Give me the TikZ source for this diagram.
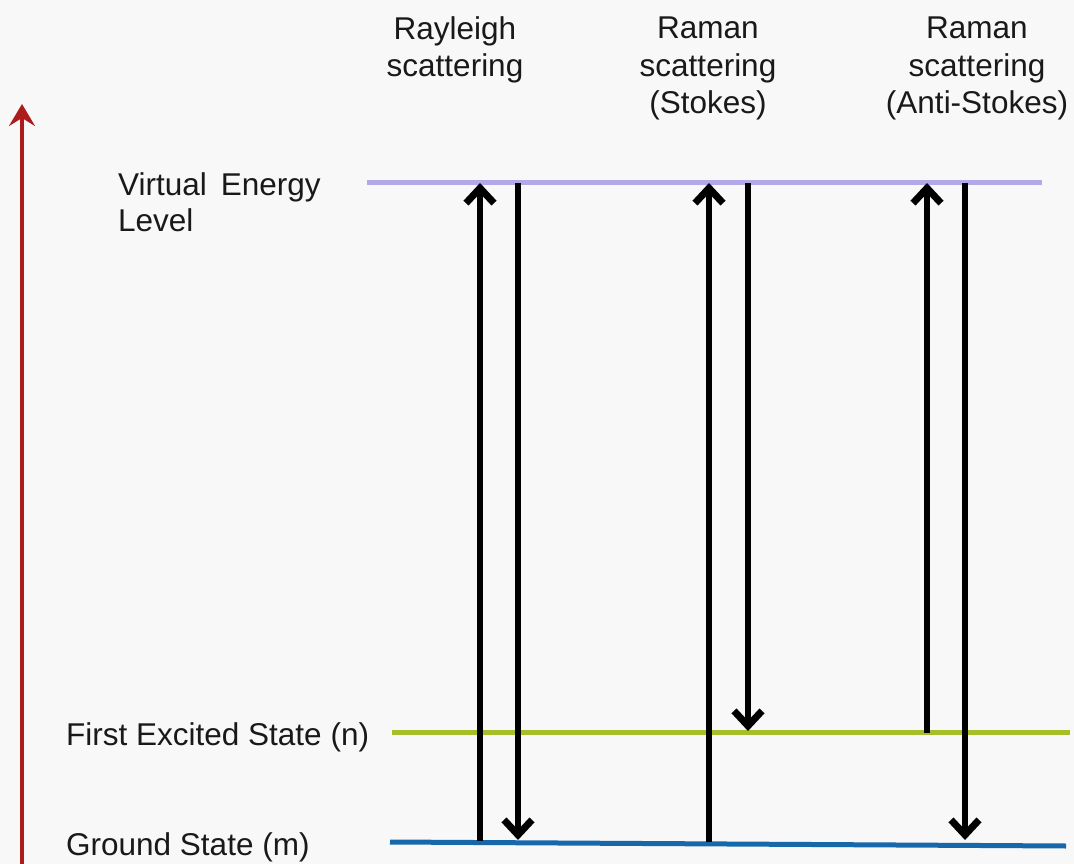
\documentclass[tikz,border=0pt]{standalone}
\usepackage{fontspec}
\setmainfont{Liberation Sans}
\usetikzlibrary{arrows.meta}
\definecolor{bgcol}{RGB}{248,248,248}
\definecolor{axisred}{RGB}{172,28,28}
\definecolor{virtcol}{RGB}{178,170,232}
\definecolor{exccol}{RGB}{168,190,40}
\definecolor{gndcol}{RGB}{22,104,170}
\tikzset{
  lbl/.style={font=\fontsize{31.5}{37.5}\selectfont, inner sep=0pt, text=black!90},
  title/.style={lbl, align=center, anchor=base},
  level/.style={line width=5pt},
  trans/.style={line width=5.5pt, black, -{Straight Barb[length=15pt,width=28pt,line width=7pt]}},
}
\begin{document}
\begin{tikzpicture}[x=1pt,y=-1pt]
  % canvas
  \fill[bgcol] (0,0) rectangle (1074,864);
  \useasboundingbox (0,0) rectangle (1074,864);

  % energy axis
  \coordinate (axb) at (22,866);
  \coordinate (axt) at (22,104);
  \draw[axisred, line width=4.5pt, -{Stealth[length=22pt,width=26pt,inset=8pt]}] (axb) -- (axt);

  % energy levels
  \coordinate (vl) at (367,183);  \coordinate (vr) at (1042,183);
  \coordinate (el) at (392,732);  \coordinate (er) at (1070,732);
  \coordinate (gl) at (390,842);  \coordinate (gr) at (1066,846);
  \draw[level, virtcol] (vl) -- (vr);
  \draw[level, exccol]  (el) -- (er);
  \draw[level, gndcol]  (gl) -- (gr);

  % level labels
  \node[lbl, anchor=base west] (virt1) at (118,196) {Virtual\, Energy};
  \node[lbl, anchor=base west] (virt2) at (118,231) {Level};
  \node[lbl, anchor=base west] (exc)   at (66,745)  {First Excited State (n)};
  \node[lbl, anchor=base west] (gnd)   at (66,855)  {Ground State (m)};

  % process titles (anchored at the baseline of the last line)
  \node[title] (ray) at (455,77)  {Rayleigh\\scattering};
  \node[title] (sto) at (708,114) {Raman\\scattering\\(Stokes)};
  \node[title] (ast) at (977,114) {Raman\\scattering\\(Anti-Stokes)};

  % transition end points
  \coordinate (r1b) at (480,841); \coordinate (r1t) at (480,183);
  \coordinate (r2t) at (518,183); \coordinate (r2b) at (518,840);
  \coordinate (s1b) at (709,842); \coordinate (s1t) at (709,183);
  \coordinate (s2t) at (748,183); \coordinate (s2b) at (748,731);
  \coordinate (a1b) at (927,733); \coordinate (a1t) at (927,183);
  \coordinate (a2t) at (965,183); \coordinate (a2b) at (965,840);

  % Rayleigh
  \draw[trans] (r1b) -- (r1t);
  \draw[trans] (r2t) -- (r2b);
  % Stokes
  \draw[trans] (s1b) -- (s1t);
  \draw[trans] (s2t) -- (s2b);
  % Anti-Stokes
  \draw[trans] (a1b) -- (a1t);
  \draw[trans] (a2t) -- (a2b);
\end{tikzpicture}
\end{document}
